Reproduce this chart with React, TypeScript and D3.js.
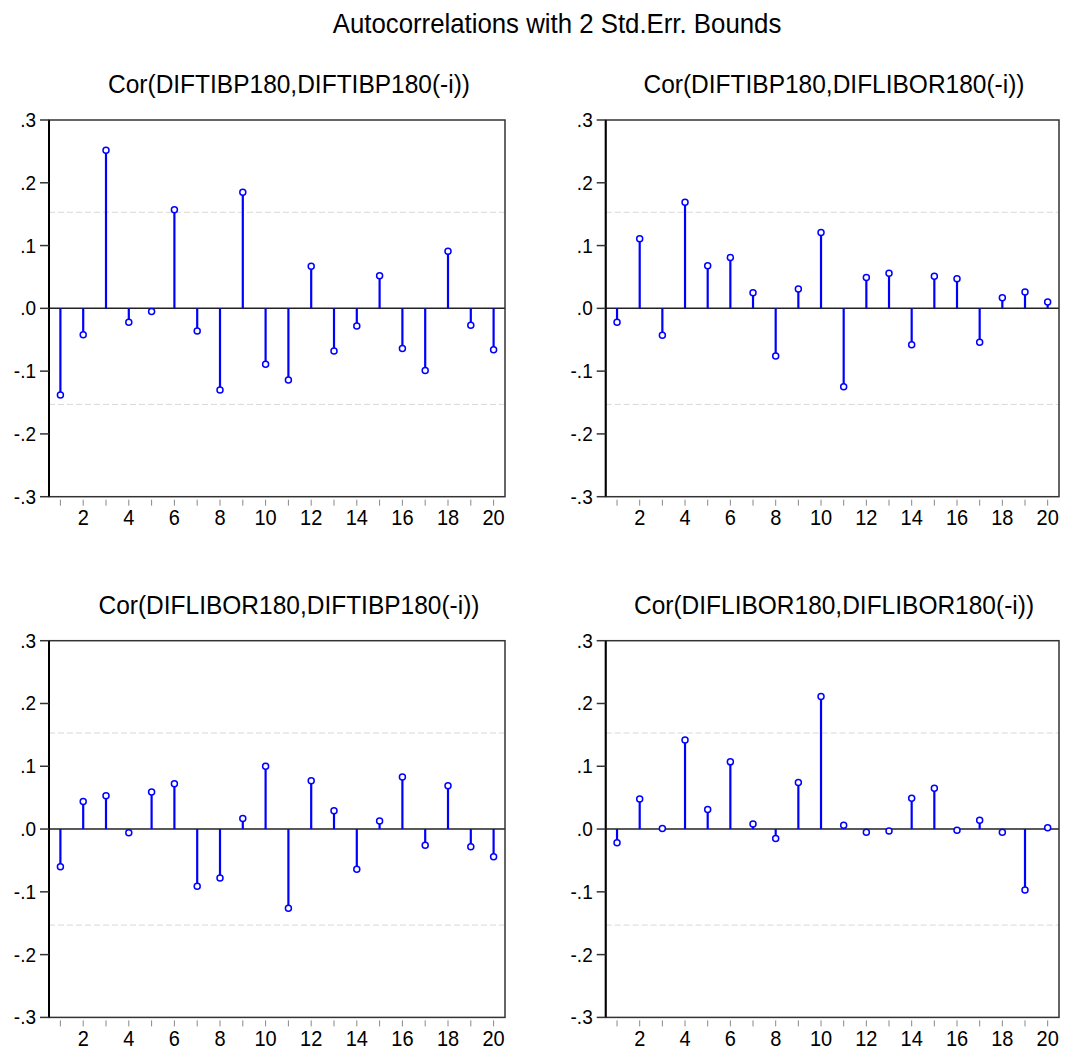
import React from 'react';
import * as d3 from 'd3';

// lags 1..20
const lags: number[] = [1, 2, 3, 4, 5, 6, 7, 8, 9, 10, 11, 12, 13, 14, 15, 16, 17, 18, 19, 20];
const yTicks: number[] = [0.3, 0.2, 0.1, 0, -0.1, -0.2, -0.3];
const yTickLabels: string[] = ['.3', '.2', '.1', '.0', '-.1', '-.2', '-.3'];
const stdErrBound = 0.153;

const titles: string[] = [
    'Cor(DIFTIBP180,DIFTIBP180(-i))',
    'Cor(DIFTIBP180,DIFLIBOR180(-i))',
    'Cor(DIFLIBOR180,DIFTIBP180(-i))',
    'Cor(DIFLIBOR180,DIFLIBOR180(-i))',
];

const corTibpTibp: number[] = [-0.138, -0.042, 0.252, -0.022, -0.005, 0.157, -0.036, -0.130, 0.185, -0.089,
    -0.114, 0.067, -0.068, -0.028, 0.052, -0.064, -0.099, 0.091, -0.027, -0.066];
const corTibpLibor: number[] = [-0.022, 0.111, -0.043, 0.169, 0.068, 0.081, 0.025, -0.076, 0.031, 0.121,
    -0.125, 0.049, 0.056, -0.058, 0.051, 0.047, -0.054, 0.017, 0.026, 0.010];
const corLiborTibp: number[] = [-0.060, 0.044, 0.053, -0.006, 0.059, 0.072, -0.091, -0.078, 0.017, 0.100,
    -0.126, 0.077, 0.029, -0.064, 0.013, 0.083, -0.026, 0.069, -0.028, -0.044];
const corLiborLibor: number[] = [-0.022, 0.048, 0.001, 0.142, 0.031, 0.107, 0.008, -0.015, 0.074, 0.211,
    0.006, -0.005, -0.003, 0.049, 0.065, -0.002, 0.014, -0.005, -0.097, 0.002];

const series: number[][] = [corTibpTibp, corTibpLibor, corLiborTibp, corLiborLibor];

const font = '"Liberation Sans", Arial, sans-serif';

interface IBox {
    left: number;
    right: number;
    top: number;
    bottom: number;
    titleX: number;
    titleY: number;
};

const boxes: IBox[] = [
    { left: 49, right: 505, top: 120, bottom: 496.7, titleX: 289, titleY: 93 },
    { left: 605.7, right: 1059, top: 120, bottom: 496.7, titleX: 834, titleY: 93 },
    { left: 49, right: 505, top: 640.7, bottom: 1017.4, titleX: 289, titleY: 613.7 },
    { left: 605.7, right: 1059, top: 640.7, bottom: 1017.4, titleX: 834, titleY: 613.7 },
];

// the original text is a bit taller than Liberation Sans, stretch it a little
const stretch = (x: number, y: number, k: number) => `translate(${x},${y}) scale(1,${k})`;

function Panel(props: { box: IBox; values: number[]; title: string }) {
    const b = props.box;
    const x = d3.scalePoint<number>()
        .domain(lags)
        .range([b.left, b.right])
        .padding(0.5);
    const y = d3.scaleLinear()
        .domain([-0.3, 0.3])
        .range([b.bottom, b.top]);

    return (
        <g>
            <text transform={stretch(b.titleX, b.titleY, 1.05)} textAnchor="middle"
                fontSize={24.5} fontFamily={font} fill="#000">
                {props.title}
            </text>
            {[stdErrBound, -stdErrBound].map((v) => (
                <line key={v} x1={b.left} x2={b.right} y1={y(v)} y2={y(v)}
                    stroke="#d8d8d8" strokeWidth={1} strokeDasharray="6,3" />
            ))}
            <line x1={b.left} x2={b.right} y1={y(0)} y2={y(0)} stroke="#222" strokeWidth={1.5} />
            {lags.map((lag, i) => (
                <g key={lag}>
                    <line x1={x(lag)} x2={x(lag)} y1={y(0)} y2={y(props.values[i])}
                        stroke="#0000ff" strokeWidth={2.2} />
                    <circle cx={x(lag)} cy={y(props.values[i])} r={3}
                        fill="#fff" stroke="#0000ff" strokeWidth={1.5} />
                </g>
            ))}
            <rect x={b.left} y={b.top} width={b.right - b.left} height={b.bottom - b.top}
                fill="none" stroke="#333" strokeWidth={1.5} />
            <line x1={b.left} x2={b.left} y1={b.top} y2={b.bottom} stroke="#000" strokeWidth={2} />
            {yTicks.map((v, i) => (
                <g key={v}>
                    <line x1={b.left - 9} x2={b.left} y1={y(v)} y2={y(v)} stroke="#333" strokeWidth={1.5} />
                    <text transform={stretch(b.left - 13, y(v) + 7, 1.05)} textAnchor="end"
                        fontSize={19} fontFamily={font} fill="#000">{yTickLabels[i]}</text>
                </g>
            ))}
            {lags.map((lag) => (
                <g key={'t' + lag}>
                    <line x1={x(lag)} x2={x(lag)} y1={b.bottom + 3} y2={b.bottom + 9}
                        stroke="#888" strokeWidth={1} />
                    {lag % 2 === 0 &&
                        <text transform={stretch(x(lag) as number, b.bottom + 28.5, 1.08)} textAnchor="middle"
                            fontSize={20} fontFamily={font} fill="#000">{lag}</text>}
                </g>
            ))}
        </g>
    );
}

export default function App() {
    return (
        <svg width={1065} height={1052}
            style={{ position: 'absolute', left: 0, top: 0, background: '#fff' }}>
            <rect x={0} y={0} width={1065} height={1052} fill="#fff" />
            <text transform={stretch(557, 33, 1.05)} textAnchor="middle"
                fontSize={25.8} fontFamily={font} fill="#000">
                Autocorrelations with 2 Std.Err. Bounds
            </text>
            {boxes.map((box, i) => (
                <Panel key={i} box={box} values={series[i]} title={titles[i]} />
            ))}
        </svg>
    );
}
